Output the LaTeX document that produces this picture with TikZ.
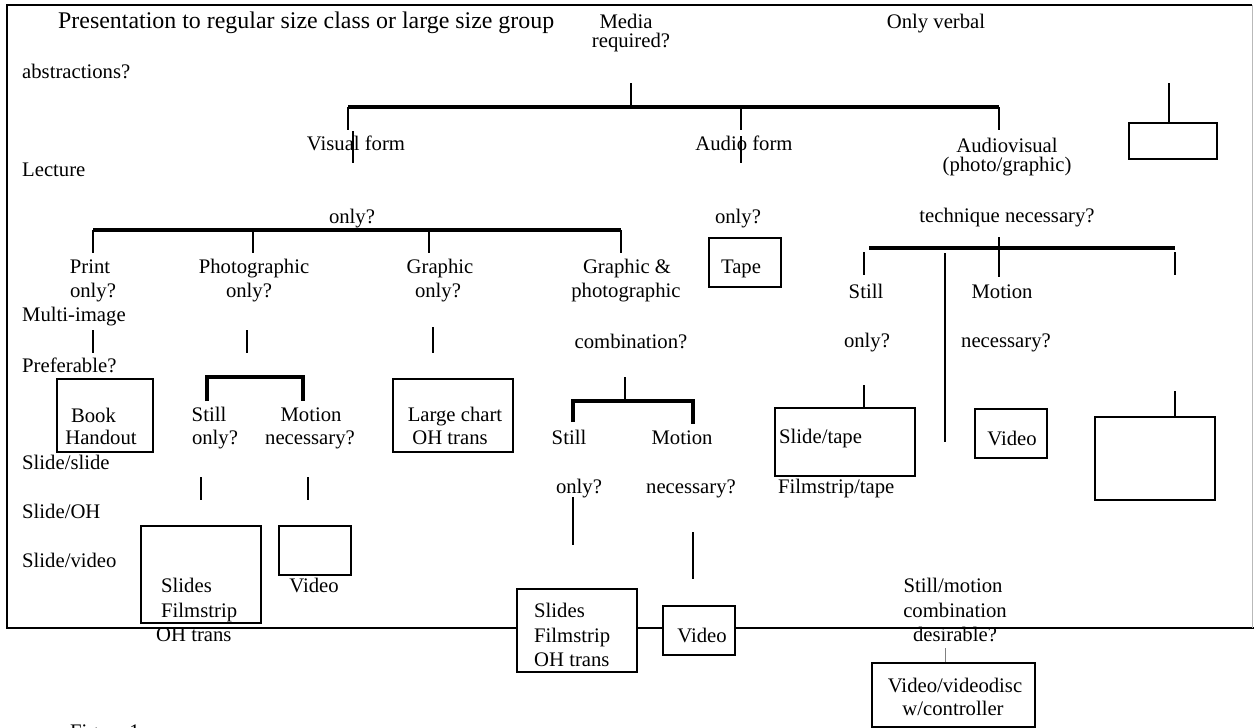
\documentclass[tikz,border=0pt]{standalone}
\usepackage{fontspec}
\setmainfont{Liberation Serif}
\begin{document}
\begin{tikzpicture}[x=1pt,y=-1pt,
  lbl/.style={anchor=base, inner sep=0pt, font=\fontsize{20.7}{23}\selectfont},
  lblw/.style={lbl, anchor=base west},
  ttl/.style={anchor=base west, inner sep=0pt, font=\fontsize{23.9}{27}\selectfont},
  bar/.style={line width=3.2pt},
  tick/.style={line width=2.6pt},
  box/.style={draw, line width=2pt, fill=white, inner sep=0pt},
]
\useasboundingbox (0,0) rectangle (1254,728);

% outer frame
\draw[line width=2.6pt] (1252,5) -- (7,5) -- (7,628) -- (1254,628);
\draw[gray!55, line width=1pt] (1252.5,5) -- (1252.5,628);

% boxes
\node[box, minimum width=88,  minimum height=36] (verbalbox) at (1173,141) {};
\node[box, minimum width=96,  minimum height=73] (bookbox)   at (105,415.5) {};
\node[box, minimum width=120, minimum height=73] (chartbox)  at (453,415.5) {};
\node[box, minimum width=72,  minimum height=49] (tapebox)   at (745,262.5) {};
\node[box, minimum width=140, minimum height=68] (stbox)     at (845,442) {};
\node[box, minimum width=72,  minimum height=49] (avvideo)   at (1011,433.5) {};
\node[box, minimum width=120, minimum height=83] (avright)   at (1155,458.5) {};
\node[box, minimum width=120, minimum height=97] (slidesA)   at (201,574.5) {};
\node[box, minimum width=72,  minimum height=49] (videoA)    at (315,550.5) {};
\node[box, minimum width=120, minimum height=83] (slidesB)   at (577,630.5) {};
\node[box, minimum width=72,  minimum height=49] (videoB)    at (699,630.5) {};
\node[box, minimum width=163, minimum height=64] (discbox)   at (953.5,695) {};

% labels: top level
\node[ttl] (title) at (58,28) {Presentation to regular size class or large size group};
\node[lbl] (media1) at (626,28) {Media};
\node[lbl] (media2) at (631,47) {required?};
\node[lbl] (verbal) at (936,28) {Only verbal};
\node[lblw] (abstr) at (22,78) {abstractions?};
\node[lblw] (lecture) at (22,176) {Lecture};
\node[lbl] (visual) at (356,150) {Visual form};
\node[lbl] (audio) at (744,150) {Audio form};
\node[lbl] (av1) at (1007,152) {Audiovisual};
\node[lbl] (av2) at (1007,171) {(photo/graphic)};
\node[lbl] (visonly) at (352,223) {only?};
\node[lbl] (audonly) at (738,223) {only?};
\node[lbl] (technique) at (1007,222) {technique necessary?};

% visual branch
\node[lbl] (print1) at (90,273) {Print};
\node[lbl] (print2) at (93,297) {only?};
\node[lblw] (multi) at (22,321) {Multi-image};
\node[lblw] (pref) at (22,372) {Preferable?};
\node[lbl] (book) at (93.5,422) {Book};
\node[lbl] (handout) at (101,444) {Handout};
\node[lblw] (sls) at (22,469) {Slide/slide};
\node[lblw] (slo) at (22,518) {Slide/OH};
\node[lblw] (slv) at (22,567) {Slide/video};

\node[lbl] (photo1) at (254,273) {Photographic};
\node[lbl] (photo2) at (249,297) {only?};
\node[lbl] (pstill1) at (209,421) {Still};
\node[lbl] (pstill2) at (215,444) {only?};
\node[lbl] (pmot1) at (311,421) {Motion};
\node[lbl] (pmot2) at (310,444) {necessary?};
\node[lblw] (sA1) at (161,592) {Slides};
\node[lblw] (sA2) at (161,617) {Filmstrip};
\node[lblw] (sA3) at (156,641) {OH trans};
\node[lbl] (vA) at (314,592) {Video};

\node[lbl] (graph1) at (440,273) {Graphic};
\node[lbl] (graph2) at (438,297) {only?};
\node[lbl] (chart1) at (455,421) {Large chart};
\node[lbl] (chart2) at (450,444) {OH trans};

\node[lbl] (gp1) at (627,273) {Graphic \&};
\node[lbl] (gp2) at (626,297) {photographic};
\node[lbl] (gp3) at (631,348) {combination?};
\node[lbl] (gstill1) at (569,444) {Still};
\node[lbl] (gmot1) at (682,444) {Motion};
\node[lbl] (gstill2) at (579,493) {only?};
\node[lbl] (gmot2) at (691,493) {necessary?};
\node[lblw] (sB1) at (534,617) {Slides};
\node[lblw] (sB2) at (534,642) {Filmstrip};
\node[lblw] (sB3) at (534,666) {OH trans};
\node[lbl] (vB) at (702,642) {Video};

% audio branch
\node[lbl] (tape) at (741,273) {Tape};

% audiovisual branch
\node[lbl] (astill1) at (866,298) {Still};
\node[lbl] (astill2) at (867,347) {only?};
\node[lbl] (amot1) at (1002,298) {Motion};
\node[lbl] (amot2) at (1006,347) {necessary?};
\node[lblw] (stape) at (779,443) {Slide/tape};
\node[lblw] (ftape) at (778,493) {Filmstrip/tape};
\node[lbl] (avv) at (1012,445) {Video};
\node[lbl] (sm1) at (953,592) {Still/motion};
\node[lbl] (sm2) at (955,617) {combination};
\node[lbl] (sm3) at (955,641) {desirable?};
\node[lbl] (disc1) at (955,692) {Video/videodisc};
\node[lbl] (disc2) at (953,715) {w/controller};

\node[lblw] (fig) at (70,738) {Figure 1};

% top level branching
\draw[tick] (631,83) -- (631,107);
\draw[bar] (348,107) -- (999,107);
\draw[tick] (348,107) -- (348,130);
\draw[tick] (353,131) -- (353,163);
\draw[tick] (741,107) -- (741,130);
\draw[tick] (741,136) -- (741,163);
\draw[tick] (999,107) -- (999,130);
\draw[tick] (1169,83) -- (verbalbox.north -| 1169,0);

% visual branching
\draw[bar] (93,230) -- (621,230);
\foreach \x in {93,253,429,621} \draw[tick] (\x,230) -- (\x,253);
\draw[tick] (93,330) -- (93,353);
\draw[tick] (247,330) -- (247,353);
\draw[bar] (207,401) -- (207,377) -- (303,377) -- (303,401);
\draw[tick] (201,477) -- (201,500);
\draw[tick] (308,477) -- (308,500);
\draw[tick] (433,327) -- (433,353);
\draw[tick] (625,377) -- (625,401);
\draw[bar] (573,422) -- (573,401) -- (693,401) -- (693,424);
\draw[tick] (573,497) -- (573,545);
\draw[tick] (693,532) -- (693,579);

% audiovisual branching
\draw[tick] (999,237) -- (999,277);
\draw[bar] (869,248) -- (1175,248);
\draw[tick] (864,252) -- (864,275);
\draw[tick] (1175,252) -- (1175,275);
\draw[tick] (945,253) -- (945,442);
\draw[tick] (864,385) -- (stbox.north -| 864,0);
\draw[tick] (1175,391) -- (avright.north -| 1175,0);
\draw[gray, line width=1pt] (945,648) -- (discbox.north -| 945,0);
\end{tikzpicture}
\end{document}
